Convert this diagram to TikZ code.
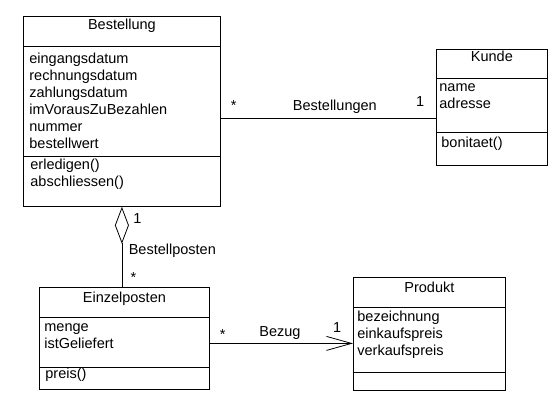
\documentclass[tikz,border=0pt]{standalone}
\usepackage{fontspec}
\setmainfont{Liberation Sans}
\usetikzlibrary{arrows.meta}
\usetikzlibrary{positioning}
\tikzset{every node/.style={font=\fontsize{14.5pt}{17pt}\selectfont}, % Schrift wie im Original
klasse/.style={ % Rahmen einer Klasse
draw,
rectangle,
anchor=north west,
inner sep=0pt},
kopf/.style={anchor=base, inner sep=0pt}, % Klassenname
liste/.style={anchor=base west, align=left, inner sep=0pt}, % Attribute und Methoden (base = letzte Zeile)
rolle/.style={anchor=base, inner sep=0pt}, % Beschriftung an Assoziationen
aggr/.style={-{Diamond[open,length=37pt,width=14pt]}},
gerichtet/.style={-{Straight Barb[length=25pt,width=14pt]}}}

\begin{document}
\begin{tikzpicture}[x=1pt, y=-1pt, line width=0.8pt]
\useasboundingbox (0,0) rectangle (557,404);
% Klassen
\node[klasse, minimum width=197pt, minimum height=190pt] (bes) at (23,16) {};
\node[klasse, minimum width=111pt, minimum height=116pt] (kun) at (436,49) {};
\node[klasse, minimum width=170pt, minimum height=102pt] (ein) at (39,287) {};
\node[klasse, minimum width=152pt, minimum height=113pt] (pro) at (353,277) {};
% Trennlinien
\draw ([yshift=-30pt]bes.north west) -- ([yshift=-30pt]bes.north east);
\draw ([yshift=-140pt]bes.north west) -- ([yshift=-140pt]bes.north east);
\draw ([yshift=-29pt]kun.north west) -- ([yshift=-29pt]kun.north east);
\draw ([yshift=-83pt]kun.north west) -- ([yshift=-83pt]kun.north east);
\draw ([yshift=-30pt]ein.north west) -- ([yshift=-30pt]ein.north east);
\draw ([yshift=-80pt]ein.north west) -- ([yshift=-80pt]ein.north east);
\draw ([yshift=-30pt]pro.north west) -- ([yshift=-30pt]pro.north east);
\draw ([yshift=-95pt]pro.north west) -- ([yshift=-95pt]pro.north east);
% Inhalte
\node[kopf] (besName) at ([yshift=-14pt]bes.north) {Bestellung};
\node[liste] (besAttr) at ([xshift=6pt,yshift=-132pt]bes.north west) {eingangsdatum\\rechnungsdatum\\zahlungsdatum\\imVorausZuBezahlen\\nummer\\bestellwert};
\node[liste] (besOp) at ([xshift=7pt,yshift=-170pt]bes.north west) {erledigen()\\abschliessen()};
\node[kopf] (kunName) at ([yshift=-13pt]kun.north) {Kunde};
\node[liste] (kunAttr) at ([xshift=3pt,yshift=-59pt]kun.north west) {name\\adresse};
\node[liste] (kunOp) at ([xshift=5pt,yshift=-98pt]kun.north west) {bonitaet()};
\node[kopf] (einName) at ([yshift=-15pt]ein.north) {Einzelposten};
\node[liste] (einAttr) at ([xshift=5pt,yshift=-61pt]ein.north west) {menge\\istGeliefert};
\node[liste] (einOp) at ([xshift=6pt,yshift=-91pt]ein.north west) {preis()};
\node[kopf] (proName) at ([yshift=-15pt]pro.north) {Produkt};
\node[liste] (proAttr) at ([xshift=4pt,yshift=-78pt]pro.north west) {bezeichnung\\einkaufspreis\\verkaufspreis};
% Beziehungen
\draw ([yshift=-7pt]bes.east) -- ([yshift=-7pt]bes.east -| kun.west)
  node[rolle, pos=.06, yshift=8pt] (m1) {*}
  node[rolle, pos=.53, yshift=8pt] (l1) {Bestellungen}
  node[rolle, pos=.926, yshift=12pt] (m2) {1};
\draw[aggr] (bes.south |- ein.north) -- (bes.south)
  node[rolle, pos=.79, xshift=15.5pt] (m3) {1}
  node[rolle, anchor=base west, pos=.4, xshift=6.5pt] (l2) {Bestellposten}
  node[rolle, pos=.05, xshift=11.5pt] (m4) {*};
\draw[gerichtet] ([yshift=-5pt]ein.east) -- ([yshift=-5pt]ein.east -| pro.west)
  node[rolle, pos=.09, yshift=4pt] (m5) {*}
  node[rolle, pos=.49, yshift=7pt] (l3) {Bezug}
  node[rolle, pos=.89, yshift=11pt] (m6) {1};
\end{tikzpicture}
\end{document}
